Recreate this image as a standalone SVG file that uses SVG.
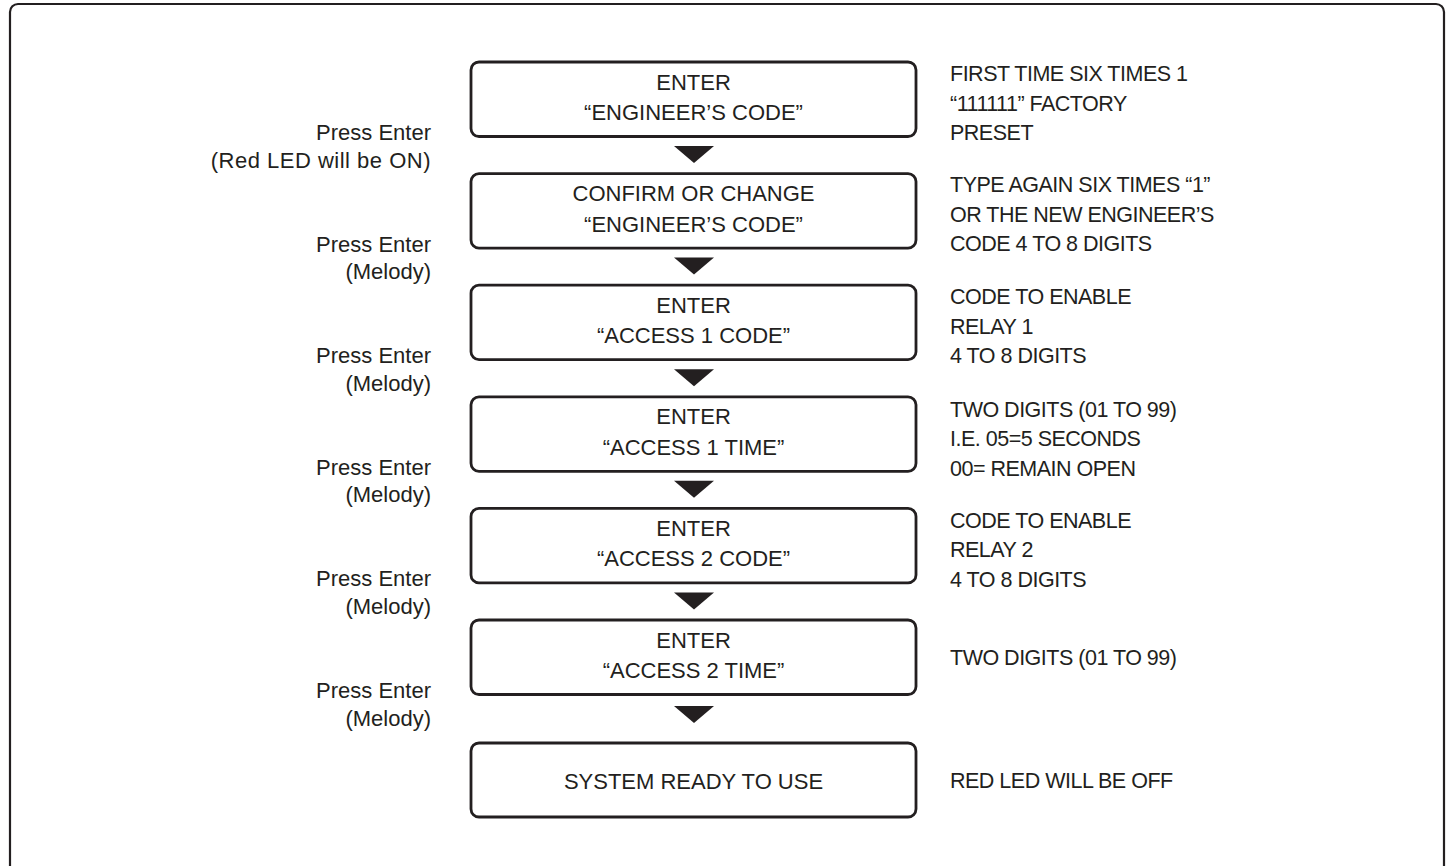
<svg xmlns="http://www.w3.org/2000/svg" width="1450" height="866" viewBox="0 0 1450 866">
  <defs>
    <style>
      .frame { fill: none; stroke: #231f20; stroke-width: 2.2; }
      .box { fill: #ffffff; stroke: #231f20; stroke-width: 2.8; }
      .arrow { fill: #231f20; stroke: none; }
      text { font-family: "Liberation Sans", Arial, sans-serif; font-size: 22px; fill: #231f20; }
      .mid { text-anchor: middle; }
      .left { text-anchor: end; }
      .wide { letter-spacing: 0.5px; }
      .note { text-anchor: start; font-size: 21.5px; letter-spacing: -0.5px; }
    </style>
  </defs>

  <rect width="1450" height="866" fill="#ffffff"/>
  <!-- outer frame, bottom edge runs past the page -->
  <rect class="frame" x="10" y="4" width="1434" height="900" rx="8"/>

  <!-- flow steps -->
  <g id="step1">
    <rect class="box" x="471" y="62" width="445" height="74.5" rx="8"/>
    <text class="mid" x="693.5" y="89.5">ENTER</text>
    <text class="mid" x="693.5" y="120">“ENGINEER’S CODE”</text>
  </g>
  <g id="step2">
    <rect class="box" x="471" y="173.6" width="445" height="74.5" rx="8"/>
    <text class="mid" x="693.5" y="201.1">CONFIRM OR CHANGE</text>
    <text class="mid" x="693.5" y="231.6">“ENGINEER’S CODE”</text>
  </g>
  <g id="step3">
    <rect class="box" x="471" y="285.2" width="445" height="74.5" rx="8"/>
    <text class="mid" x="693.5" y="312.7">ENTER</text>
    <text class="mid" x="693.5" y="343.2">“ACCESS 1 CODE”</text>
  </g>
  <g id="step4">
    <rect class="box" x="471" y="396.8" width="445" height="74.5" rx="8"/>
    <text class="mid" x="693.5" y="424.3">ENTER</text>
    <text class="mid" x="693.5" y="454.8">“ACCESS 1 TIME”</text>
  </g>
  <g id="step5">
    <rect class="box" x="471" y="508.4" width="445" height="74.5" rx="8"/>
    <text class="mid" x="693.5" y="535.9">ENTER</text>
    <text class="mid" x="693.5" y="566.4">“ACCESS 2 CODE”</text>
  </g>
  <g id="step6">
    <rect class="box" x="471" y="620" width="445" height="74.5" rx="8"/>
    <text class="mid" x="693.5" y="647.5">ENTER</text>
    <text class="mid" x="693.5" y="678">“ACCESS 2 TIME”</text>
  </g>
  <g id="step7">
    <rect class="box" x="471" y="743" width="445" height="74" rx="8"/>
    <text class="mid" x="693.5" y="789">SYSTEM READY TO USE</text>
  </g>

  <!-- connectors between steps -->
  <g id="connectors">
    <polygon class="arrow" points="674,146 714,146 694,163"/>
    <polygon class="arrow" points="674,257.6 714,257.6 694,274.6"/>
    <polygon class="arrow" points="674,369.2 714,369.2 694,386.2"/>
    <polygon class="arrow" points="674,480.8 714,480.8 694,497.8"/>
    <polygon class="arrow" points="674,592.4 714,592.4 694,609.4"/>
    <polygon class="arrow" points="674,706 714,706 694,723"/>
  </g>

  <!-- key actions on the left -->
  <g id="actions">
    <text class="left" x="431" y="140">Press Enter</text>
    <text class="left wide" x="431" y="167.5">(Red LED will be ON)</text>
    <text class="left" x="431" y="251.6">Press Enter</text>
    <text class="left" x="431" y="279.1">(Melody)</text>
    <text class="left" x="431" y="363.2">Press Enter</text>
    <text class="left" x="431" y="390.7">(Melody)</text>
    <text class="left" x="431" y="474.8">Press Enter</text>
    <text class="left" x="431" y="502.3">(Melody)</text>
    <text class="left" x="431" y="586.4">Press Enter</text>
    <text class="left" x="431" y="613.9">(Melody)</text>
    <text class="left" x="431" y="698">Press Enter</text>
    <text class="left" x="431" y="725.5">(Melody)</text>
  </g>

  <!-- notes on the right -->
  <g id="notes">
    <text class="note" x="950" y="81">FIRST TIME SIX TIMES 1</text>
    <text class="note" x="950" y="110.5">“111111” FACTORY</text>
    <text class="note" x="950" y="140">PRESET</text>

    <text class="note" x="950" y="192">TYPE AGAIN SIX TIMES “1”</text>
    <text class="note" x="950" y="221.5">OR THE NEW ENGINEER’S</text>
    <text class="note" x="950" y="251">CODE 4 TO 8 DIGITS</text>

    <text class="note" x="950" y="304">CODE TO ENABLE</text>
    <text class="note" x="950" y="333.5">RELAY 1</text>
    <text class="note" x="950" y="363">4 TO 8 DIGITS</text>

    <text class="note" x="950" y="416.5">TWO DIGITS (01 TO 99)</text>
    <text class="note" x="950" y="446">I.E. 05=5 SECONDS</text>
    <text class="note" x="950" y="475.5">00= REMAIN OPEN</text>

    <text class="note" x="950" y="527.5">CODE TO ENABLE</text>
    <text class="note" x="950" y="557">RELAY 2</text>
    <text class="note" x="950" y="586.5">4 TO 8 DIGITS</text>

    <text class="note" x="950" y="665">TWO DIGITS (01 TO 99)</text>

    <text class="note" x="950" y="788">RED LED WILL BE OFF</text>
  </g>
</svg>
